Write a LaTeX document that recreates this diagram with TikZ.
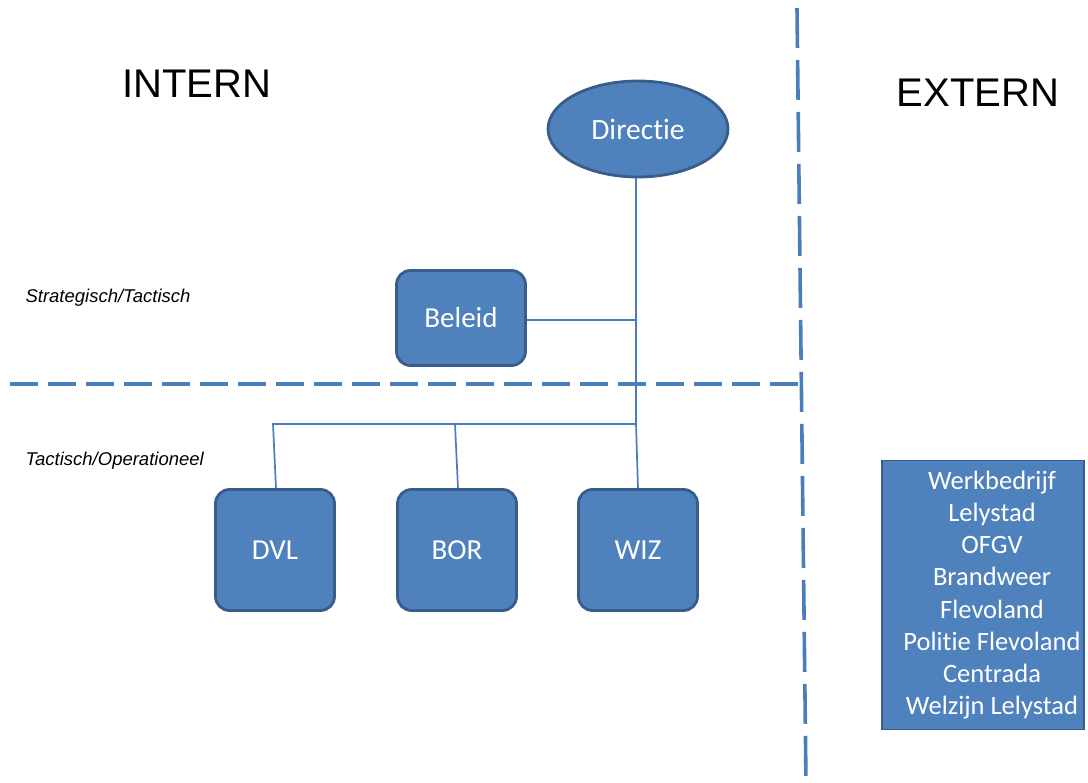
\documentclass[tikz,border=0pt]{standalone}
\usepackage{fontspec}
\setmainfont{Liberation Sans}
\newfontfamily\calib[Ligatures=NoCommon]{Carlito}
\usetikzlibrary{shapes.geometric}
\definecolor{bfill}{HTML}{4F81BD}
\definecolor{bdraw}{HTML}{385D8A}
\definecolor{bline}{HTML}{4A7EBB}
\begin{document}
\begin{tikzpicture}[x=1pt,y=-1pt,
  unit/.style={draw=bdraw,fill=bfill,line width=2.8pt,rounded corners=14pt,
    minimum width=119pt,minimum height=95pt,inner sep=0pt,text=white,
    font=\calib\fontsize{29}{34}\selectfont},
  conn/.style={draw=bline,line width=1.7pt},
  divider/.style={draw=bline,line width=3.6pt,dash pattern=on 28pt off 10pt},
  title/.style={font=\fontsize{40}{46}\selectfont,anchor=base},
  level/.style={font=\itshape\fontsize{18.5}{22}\selectfont,anchor=base west}]
\useasboundingbox (0,0) rectangle (1088,783);
% dividers
\coordinate (hl) at (10,384);
\coordinate (hr) at (806,384);
\coordinate (vt) at (797,8);
\coordinate (vb) at (806,783);
\path[divider] (hl) -- (hr);
\path[divider,dash pattern=on 40pt off 12pt] (vt) -- (vb);
% titles
\node[title] (intern) at (197,98) {INTERN};
\node[title] (extern) at (978,107) {EXTERN};
\node[level] (strat) at (22,303) {Strategisch/Tactisch};
\node[level] (tact) at (22,466) {Tactisch/Operationeel};
% nodes
\node[ellipse,draw=bdraw,fill=bfill,line width=2.8pt,minimum width=180pt,minimum height=96pt,
  inner sep=0pt,text=white,font=\calib\fontsize{29.5}{34}\selectfont] (dir) at (638,129) {Directie};
\node[unit,minimum width=129pt] (bel) at (461,318) {Beleid};
\node[unit,minimum height=121pt] (dvl) at (275,550) {DVL};
\node[unit,minimum height=121pt] (bor) at (457,550) {BOR};
\node[unit,minimum height=121pt] (wiz) at (638,550) {WIZ};
\node[draw=bdraw,fill=bfill,line width=1.8pt,minimum width=202pt,minimum height=269pt,
  inner sep=0pt] (ext) at (983,595) {};
\node[text=white,align=center,inner sep=0pt,font=\calib\fontsize{26.5}{32.2}\selectfont]
  (exttext) at ([xshift=9pt]ext.center)
  {Werkbedrijf\\Lelystad\\OFGV\\Brandweer\\Flevoland\\Politie Flevoland\\Centrada\\Welzijn Lelystad};
% connectors
\coordinate (top) at (636,178);
\coordinate (j1) at (636,320);
\coordinate (j2) at (636,424);
\coordinate (jd) at (273,424);
\coordinate (jb) at (455,424);
\path[conn] (top) -- (j1) -- (j2) -- (wiz.north);
\path[conn] (bel.east |- j1) -- (j1);
\path[conn] (j2) -- (jd) -- ([xshift=1pt]dvl.north);
\path[conn] (jb) -- ([xshift=1pt]bor.north);
\end{tikzpicture}
\end{document}
